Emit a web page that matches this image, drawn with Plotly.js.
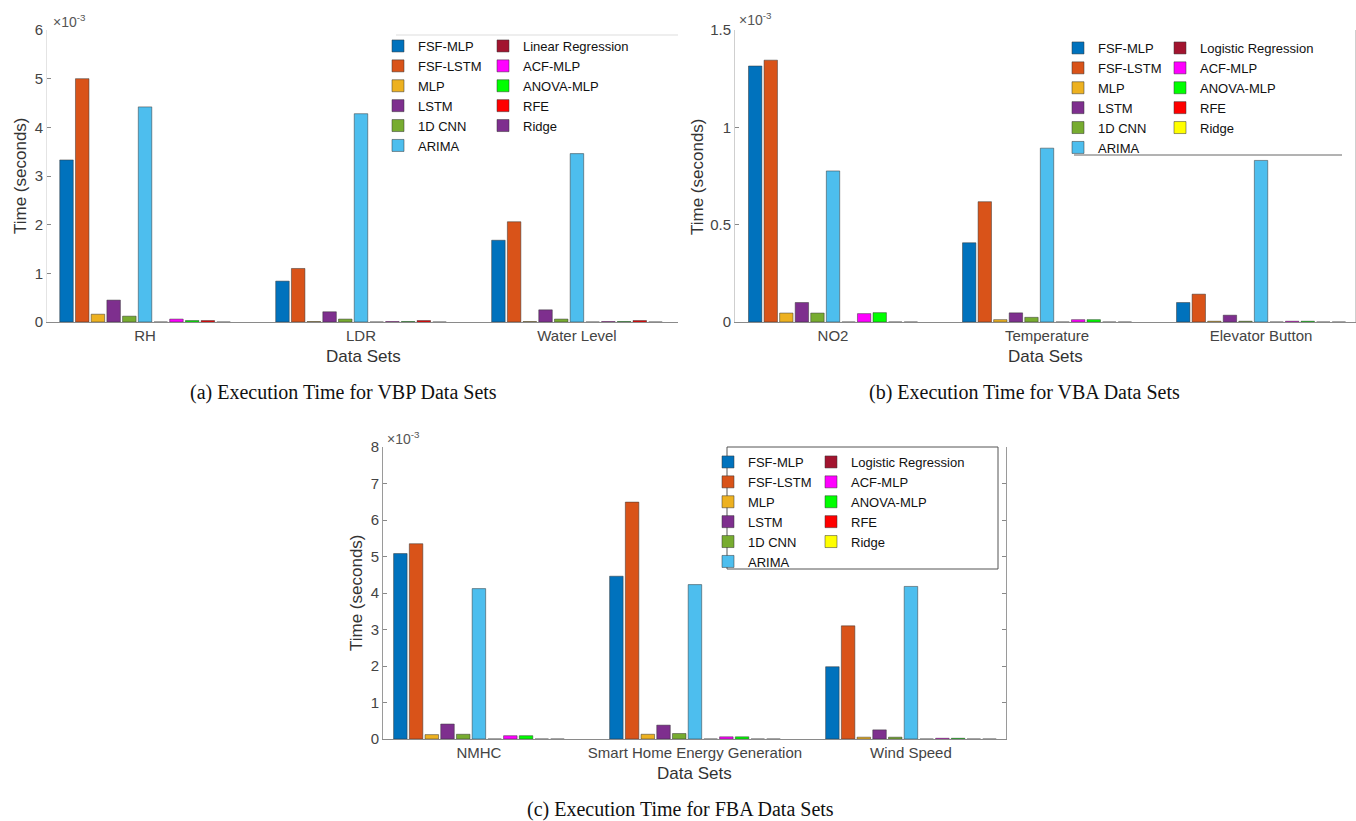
<!DOCTYPE html>
<html>
<head>
<meta charset="utf-8">
<script src="https://cdn.plot.ly/plotly-3.0.1.min.js"></script>
<style>
  html, body { margin: 0; padding: 0; background: #ffffff; }
  #chart { width: 1356px; height: 821px; }
</style>
</head>
<body>
<div id="chart"></div>
<script>
// ---------------- DATA (execution time in units of 1e-3 seconds) ----------------
// Series order = bar order inside every group (legend column 1, then column 2)
const seriesVBP = ['FSF-MLP', 'FSF-LSTM', 'MLP', 'LSTM', '1D CNN', 'ARIMA',
                   'Linear Regression', 'ACF-MLP', 'ANOVA-MLP', 'RFE', 'Ridge'];
const seriesVBA = ['FSF-MLP', 'FSF-LSTM', 'MLP', 'LSTM', '1D CNN', 'ARIMA',
                   'Logistic Regression', 'ACF-MLP', 'ANOVA-MLP', 'RFE', 'Ridge'];
const seriesFBA = ['FSF-MLP', 'FSF-LSTM', 'MLP', 'LSTM', '1D CNN', 'ARIMA',
                   'Logistic Regression', 'ACF-MLP', 'ANOVA-MLP', 'RFE', 'Ridge'];

const categoriesVBP = ['RH', 'LDR', 'Water Level'];
const categoriesVBA = ['NO2', 'Temperature', 'Elevator Button'];
const categoriesFBA = ['NMHC', 'Smart Home Energy Generation', 'Wind Speed'];

// (a) VBP data sets — one value per series
const timeRH          = [3.33, 5.00, 0.16, 0.45, 0.12, 4.42, 0.00, 0.06, 0.03, 0.03, 0.00];
const timeLDR         = [0.84, 1.10, 0.01, 0.21, 0.06, 4.28, 0.00, 0.01, 0.01, 0.03, 0.00];
const timeWaterLevel  = [1.68, 2.06, 0.01, 0.25, 0.06, 3.46, 0.00, 0.01, 0.01, 0.03, 0.00];

// (b) VBA data sets
const timeNO2         = [1.315, 1.345, 0.046, 0.100, 0.046, 0.776, 0.000, 0.043, 0.048, 0.000, 0.000];
const timeTemperature = [0.407, 0.618, 0.012, 0.047, 0.024, 0.893, 0.000, 0.012, 0.012, 0.000, 0.000];
const timeElevator    = [0.100, 0.143, 0.004, 0.035, 0.004, 0.830, 0.000, 0.004, 0.004, 0.000, 0.000];

// (c) FBA data sets
const timeNMHC        = [5.08, 5.35, 0.12, 0.41, 0.13, 4.12, 0.00, 0.09, 0.09, 0.00, 0.00];
const timeSmartHome   = [4.46, 6.49, 0.13, 0.38, 0.15, 4.23, 0.00, 0.06, 0.06, 0.00, 0.00];
const timeWindSpeed   = [1.98, 3.10, 0.05, 0.25, 0.05, 4.18, 0.00, 0.02, 0.02, 0.00, 0.00];

// y tick values
const ticksVBP = [0, 1, 2, 3, 4, 5, 6];
const ticksVBA = [0, 0.5, 1, 1.5];
const ticksFBA = [0, 1, 2, 3, 4, 5, 6, 7, 8];

// ---------------- STYLE ----------------
const colorsVBP = ['#0072BD', '#D95319', '#EDB120', '#7E2F8E', '#77AC30', '#4DBEEE',
                   '#A2142F', '#FF00FF', '#00FF00', '#FF0000', '#7E2F8E'];
const colorsVBA = ['#0072BD', '#D95319', '#EDB120', '#7E2F8E', '#77AC30', '#4DBEEE',
                   '#A2142F', '#FF00FF', '#00FF00', '#FF0000', '#FFFF00'];
const colorsFBA = colorsVBA;

const W = 1356, H = 821;
const px = x => x / W;
const py = y => 1 - y / H;
const SANS = '"Liberation Sans", Arial, Helvetica, sans-serif';
const SERIF = '"Liberation Serif", "Times New Roman", serif';

function panelTraces(series, colors, categories, rows, ax, legA, legB) {
  return series.map((name, i) => ({
    type: 'bar',
    name: name,
    x: categories,
    y: rows.map(r => r[i]),
    xaxis: 'x' + ax,
    yaxis: 'y' + ax,
    legend: i < 6 ? legA : legB,
    marker: { color: colors[i], line: { color: '#333333', width: 0.5 } },
    hovertemplate: '%{x}<br>' + name + ': %{y}e-3 s<extra></extra>'
  }));
}

const data = [].concat(
  panelTraces(seriesVBP, colorsVBP, categoriesVBP, [timeRH, timeLDR, timeWaterLevel], '', 'legend', 'legend2'),
  panelTraces(seriesVBA, colorsVBA, categoriesVBA, [timeNO2, timeTemperature, timeElevator], '2', 'legend3', 'legend4'),
  panelTraces(seriesFBA, colorsFBA, categoriesFBA, [timeNMHC, timeSmartHome, timeWindSpeed], '3', 'legend5', 'legend6')
);

function xAxis(d0, d1, range, anchor) {
  return {
    domain: [px(d0), px(d1)], anchor: anchor, type: 'category', range: range,
    showline: true, linecolor: '#8a8a8a', linewidth: 1, ticks: '',
    showgrid: false, zeroline: false, fixedrange: true,
    tickfont: { family: SANS, size: 15, color: '#444444' }
  };
}
function yAxis(top, bottom, range, tickvals, anchor, lineColor, mirror) {
  return {
    domain: [py(bottom), py(top)], anchor: anchor, range: range,
    tickmode: 'array', tickvals: tickvals,
    showline: true, linecolor: lineColor, linewidth: 1, mirror: mirror,
    ticks: 'inside', ticklen: 4, tickcolor: '#888888',
    showgrid: false, zeroline: false, fixedrange: true,
    tickfont: { family: SANS, size: 15, color: '#444444' }
  };
}
function legendAt(x, y) {
  return {
    x: px(x), y: py(y), xanchor: 'left', yanchor: 'top', orientation: 'v',
    bgcolor: 'rgba(0,0,0,0)', borderwidth: 0, tracegroupgap: 0,
    font: { family: SANS, size: 13, color: '#111111' }
  };
}
function ann(text, x, y, size, opts) {
  return Object.assign({
    text: text, x: px(x), y: py(y), xref: 'paper', yref: 'paper',
    showarrow: false, xanchor: 'center', yanchor: 'middle',
    font: { family: SANS, size: size, color: '#333333' }
  }, opts || {});
}
function rect(x0, y0, x1, y1, line) {
  return { type: 'rect', xref: 'paper', yref: 'paper', layer: 'above',
           x0: px(x0), x1: px(x1), y0: py(y1), y1: py(y0),
           fillcolor: '#ffffff', line: line };
}
function hline(x0, x1, y, color) {
  return { type: 'line', xref: 'paper', yref: 'paper', layer: 'above',
           x0: px(x0), x1: px(x1), y0: py(y), y1: py(y), line: { color: color, width: 1 } };
}
const EXPFONT = { family: SANS, size: 14, color: '#555555' };
const CAPFONT = { family: SERIF, size: 20, color: '#111111' };

const layout = {
  width: W, height: H,
  margin: { l: 0, r: 0, t: 0, b: 0 },
  paper_bgcolor: '#ffffff', plot_bgcolor: 'rgba(0,0,0,0)',
  barmode: 'group', bargap: 0.2, bargroupgap: 0.14,
  showlegend: true,
  xaxis:  xAxis(47, 678, [-0.454, 2.468], 'y'),
  yaxis:  yAxis(30, 322, [0, 6], ticksVBP, 'x', '#e4e4e4', false),
  xaxis2: xAxis(735, 1355, [-0.458, 2.439], 'y2'),
  yaxis2: yAxis(30, 322, [0, 1.5], ticksVBA, 'x2', '#cfcfcf', true),
  xaxis3: xAxis(383, 1006, [-0.444, 2.44], 'y3'),
  yaxis3: yAxis(447, 739, [0, 8], ticksFBA, 'x3', '#9a9a9a', 'ticks'),
  legend:  legendAt(378, 31),
  legend2: legendAt(483, 31),
  legend3: legendAt(1058, 33),
  legend4: legendAt(1160, 33),
  legend5: legendAt(708, 447),
  legend6: legendAt(811, 447),
  shapes: [
    rect(396, 35, 668, 153, { width: 0 }),
    hline(396, 678, 35, '#dddddd'),
    rect(1074, 36, 1342, 155, { width: 0 }),
    hline(1074, 1342, 155, '#666666'),
    rect(727, 447, 998, 569, { color: '#555555', width: 1 })
  ],
  annotations: [
    // y-axis titles
    ann('Time (seconds)', 20, 176, 17, { textangle: -90 }),
    ann('Time (seconds)', 697, 177, 17, { textangle: -90 }),
    ann('Time (seconds)', 356, 593, 17, { textangle: -90 }),
    // x-axis titles
    ann('Data Sets', 363, 356, 17),
    ann('Data Sets', 1045, 357, 17),
    ann('Data Sets', 694, 773, 17),
    // exponent labels
    ann('×10<sup>-3</sup>', 51, 21, 14, { xanchor: 'left', font: EXPFONT }),
    ann('×10<sup>-3</sup>', 737, 19, 14, { xanchor: 'left', font: EXPFONT }),
    ann('×10<sup>-3</sup>', 385, 438, 14, { xanchor: 'left', font: EXPFONT }),
    // captions
    ann('(a) Execution Time for VBP Data Sets', 343, 392, 20, { font: CAPFONT }),
    ann('(b) Execution Time for VBA Data Sets', 1024, 392, 20, { font: CAPFONT }),
    ann('(c) Execution Time for FBA Data Sets', 681, 809, 20, { font: CAPFONT })
  ]
};

Plotly.newPlot('chart', data, layout, { displayModeBar: false, responsive: false });
</script>
</body>
</html>
